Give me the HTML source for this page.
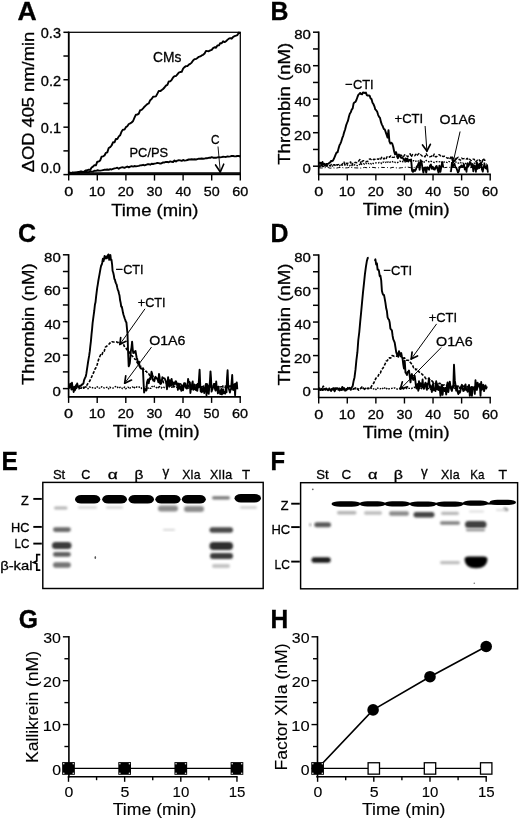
<!DOCTYPE html>
<html><head><meta charset="utf-8"><title>Figure</title>
<style>html,body{margin:0;padding:0;background:#fff}svg{display:block}text{font-family:"Liberation Sans","DejaVu Sans",sans-serif;fill:#000}text.c{stroke:#000;stroke-width:.3px}text.h{stroke:#000;stroke-width:.12px}</style>
</head><body>
<svg width="520" height="821" viewBox="0 0 520 821">
<defs>
<filter id="b1" x="-20%" y="-50%" width="140%" height="200%"><feGaussianBlur stdDeviation="0.7"/></filter>
<filter id="b2" x="-20%" y="-80%" width="140%" height="260%"><feGaussianBlur stdDeviation="0.9"/></filter>
<filter id="b3" x="-20%" y="-100%" width="140%" height="300%"><feGaussianBlur stdDeviation="1.2"/></filter>
</defs>
<rect width="520" height="821" fill="#fff"/>
<rect x="68.7" y="32.3" width="171.60000000000002" height="142.3" fill="none" stroke="#000" stroke-width="1.25"/>
<line x1="68.70" y1="31.70" x2="68.70" y2="175.20" stroke="#000" stroke-width="1.7"/>
<line x1="68.20" y1="174.20" x2="240.80" y2="174.20" stroke="#000" stroke-width="1.7"/>
<line x1="63.40" y1="174.60" x2="68.70" y2="174.60" stroke="#000" stroke-width="1.5"/>
<line x1="63.40" y1="150.88" x2="68.70" y2="150.88" stroke="#000" stroke-width="1.5"/>
<line x1="63.40" y1="127.17" x2="68.70" y2="127.17" stroke="#000" stroke-width="1.5"/>
<line x1="63.40" y1="103.45" x2="68.70" y2="103.45" stroke="#000" stroke-width="1.5"/>
<line x1="63.40" y1="79.73" x2="68.70" y2="79.73" stroke="#000" stroke-width="1.5"/>
<line x1="63.40" y1="56.02" x2="68.70" y2="56.02" stroke="#000" stroke-width="1.5"/>
<line x1="63.40" y1="32.30" x2="68.70" y2="32.30" stroke="#000" stroke-width="1.5"/>
<line x1="68.70" y1="174.60" x2="68.70" y2="180.60" stroke="#000" stroke-width="1.4"/>
<line x1="97.30" y1="174.60" x2="97.30" y2="180.60" stroke="#000" stroke-width="1.4"/>
<line x1="125.90" y1="174.60" x2="125.90" y2="180.60" stroke="#000" stroke-width="1.4"/>
<line x1="154.50" y1="174.60" x2="154.50" y2="180.60" stroke="#000" stroke-width="1.4"/>
<line x1="183.10" y1="174.60" x2="183.10" y2="180.60" stroke="#000" stroke-width="1.4"/>
<line x1="211.70" y1="174.60" x2="211.70" y2="180.60" stroke="#000" stroke-width="1.4"/>
<line x1="240.30" y1="174.60" x2="240.30" y2="180.60" stroke="#000" stroke-width="1.4"/>
<polyline points="68.7,171.9 70.1,173.4 71.6,172.9 73.0,172.5 74.4,173.3 75.9,172.6 77.3,172.5 78.7,173.7 80.1,171.5 81.6,171.4 83.0,172.0 84.4,171.3 85.9,170.4 87.3,170.3 88.7,169.7 90.2,169.9 91.6,167.5 93.0,166.6 94.4,165.2 95.9,165.3 97.3,161.6 98.7,161.5 100.2,160.4 101.6,156.7 103.0,156.3 104.5,155.5 105.9,152.8 107.3,152.4 108.7,148.0 110.2,147.2 111.6,145.5 113.0,142.3 114.5,142.4 115.9,138.9 117.3,139.1 118.8,136.4 120.2,135.2 121.6,131.5 123.0,129.6 124.5,129.6 125.9,127.1 127.3,126.2 128.8,124.0 130.2,123.4 131.6,122.5 133.1,121.0 134.5,117.7 135.9,114.7 137.3,114.6 138.8,113.6 140.2,110.2 141.6,109.9 143.1,108.4 144.5,106.7 145.9,105.4 147.4,104.0 148.8,103.3 150.2,100.2 151.6,99.1 153.1,96.8 154.5,96.6 155.9,96.4 157.4,93.6 158.8,90.9 160.2,91.1 161.7,90.1 163.1,89.0 164.5,87.5 165.9,85.6 167.4,84.8 168.8,81.4 170.2,81.4 171.7,79.8 173.1,77.5 174.5,76.1 176.0,76.0 177.4,74.3 178.8,72.6 180.2,72.0 181.7,71.8 183.1,68.6 184.5,67.1 186.0,66.1 187.4,66.1 188.8,64.6 190.2,63.9 191.7,62.6 193.1,60.4 194.5,59.2 196.0,58.9 197.4,57.9 198.8,56.8 200.3,56.4 201.7,55.4 203.1,54.8 204.6,53.5 206.0,50.9 207.4,51.1 208.8,51.2 210.3,50.4 211.7,49.9 213.1,48.1 214.6,47.2 216.0,47.8 217.4,45.5 218.9,45.4 220.3,43.1 221.7,43.2 223.1,41.3 224.6,42.1 226.0,41.2 227.4,39.9 228.9,38.6 230.3,38.1 231.7,38.7 233.2,36.8 234.6,36.2 236.0,35.7 237.4,35.1 238.9,32.5 240.3,33.3" fill="none" stroke="#000" stroke-width="1.9" stroke-linejoin="round"/>
<polyline points="68.7,173.5 70.1,172.8 71.6,172.9 73.0,172.8 74.4,172.4 75.9,172.4 77.3,172.3 78.7,172.0 80.1,172.1 81.6,172.3 83.0,172.1 84.4,172.0 85.9,171.7 87.3,172.0 88.7,172.1 90.2,171.3 91.6,171.6 93.0,171.6 94.4,170.7 95.9,170.9 97.3,170.3 98.7,170.5 100.2,170.6 101.6,170.4 103.0,170.1 104.5,169.8 105.9,169.8 107.3,169.5 108.7,169.8 110.2,169.1 111.6,169.5 113.0,168.9 114.5,168.4 115.9,168.1 117.3,167.7 118.8,168.7 120.2,167.8 121.6,167.4 123.0,167.3 124.5,167.8 125.9,167.2 127.3,166.5 128.8,167.4 130.2,166.6 131.6,166.2 133.1,166.6 134.5,166.0 135.9,166.4 137.3,166.1 138.8,165.9 140.2,165.4 141.6,165.3 143.1,164.8 144.5,165.3 145.9,164.8 147.4,164.3 148.8,164.2 150.2,164.7 151.6,163.8 153.1,164.0 154.5,163.6 155.9,163.4 157.4,162.9 158.8,163.1 160.2,163.6 161.7,163.3 163.1,162.4 164.5,162.5 165.9,161.9 167.4,162.0 168.8,162.2 170.2,161.4 171.7,161.8 173.1,162.0 174.5,160.5 176.0,161.6 177.4,160.6 178.8,160.3 180.2,160.4 181.7,160.9 183.1,159.9 184.5,160.6 186.0,160.4 187.4,160.0 188.8,159.5 190.2,159.5 191.7,159.2 193.1,159.5 194.5,159.3 196.0,159.5 197.4,159.1 198.8,158.7 200.3,158.8 201.7,158.5 203.1,158.7 204.6,158.6 206.0,158.2 207.4,158.2 208.8,157.8 210.3,157.8 211.7,157.2 213.1,157.7 214.6,157.6 216.0,157.8 217.4,157.4 218.9,157.1 220.3,157.4 221.7,157.1 223.1,156.8 224.6,156.9 226.0,157.0 227.4,156.4 228.9,156.6 230.3,156.4 231.7,156.0 233.2,156.0 234.6,156.4 236.0,156.3 237.4,156.0 238.9,156.0 240.3,156.5" fill="none" stroke="#000" stroke-width="1.9" stroke-linejoin="round"/>
<polyline points="68.7,172.9 240.3,172.9" fill="none" stroke="#000" stroke-width="1.5" stroke-linejoin="round"/>
<text class="c" x="40.82" y="173.00" font-size="14.0" textLength="20.09" lengthAdjust="spacingAndGlyphs">0.0</text>
<text class="c" x="40.82" y="133.32" font-size="14.0" textLength="20.24" lengthAdjust="spacingAndGlyphs">0.1</text>
<text class="c" x="40.82" y="85.88" font-size="14.0" textLength="20.32" lengthAdjust="spacingAndGlyphs">0.2</text>
<text class="c" x="40.82" y="38.45" font-size="14.0" textLength="20.16" lengthAdjust="spacingAndGlyphs">0.3</text>
<text class="c" x="64.15" y="196.20" font-size="13.6" textLength="9.04" lengthAdjust="spacingAndGlyphs">0</text>
<text class="c" x="88.79" y="196.20" font-size="13.6" textLength="16.46" lengthAdjust="spacingAndGlyphs">10</text>
<text class="c" x="117.78" y="196.20" font-size="13.6" textLength="16.06" lengthAdjust="spacingAndGlyphs">20</text>
<text class="c" x="146.53" y="196.20" font-size="13.6" textLength="15.91" lengthAdjust="spacingAndGlyphs">30</text>
<text class="c" x="175.42" y="196.20" font-size="13.6" textLength="15.60" lengthAdjust="spacingAndGlyphs">40</text>
<text class="c" x="203.73" y="196.20" font-size="13.6" textLength="15.91" lengthAdjust="spacingAndGlyphs">50</text>
<text class="c" x="232.18" y="196.20" font-size="13.6" textLength="16.06" lengthAdjust="spacingAndGlyphs">60</text>
<text class="c" x="111.23" y="215.50" font-size="17.0" textLength="87.27" lengthAdjust="spacingAndGlyphs">Time (min)</text>
<text class="c" x="34.20" y="172.35" font-size="17.0" textLength="140.55" lengthAdjust="spacingAndGlyphs" transform="rotate(-90 34.20 172.35)">ΔOD 405 nm/min</text>
<text class="c" x="17.54" y="20.40" font-size="25" font-weight="bold" textLength="19.19" lengthAdjust="spacingAndGlyphs">A</text>
<text class="c" x="153.11" y="61.80" font-size="14.2" textLength="28.38" lengthAdjust="spacingAndGlyphs">CMs</text>
<text class="c" x="129.57" y="157.20" font-size="13.6" textLength="38.52" lengthAdjust="spacingAndGlyphs">PC/PS</text>
<text class="c" x="210.91" y="144.40" font-size="13.6" textLength="8.53" lengthAdjust="spacingAndGlyphs">C</text>
<line x1="218.00" y1="146.50" x2="220.30" y2="172.00" stroke="#000" stroke-width="0.9"/>
<line x1="220.30" y1="172.00" x2="215.57" y2="164.94" stroke="#000" stroke-width="1.6" stroke-linecap="round"/>
<line x1="220.30" y1="172.00" x2="223.69" y2="164.20" stroke="#000" stroke-width="1.6" stroke-linecap="round"/>
<line x1="318.70" y1="31.50" x2="318.70" y2="175.10" stroke="#000" stroke-width="1.7"/>
<line x1="318.20" y1="174.40" x2="490.90" y2="174.40" stroke="#000" stroke-width="1.7"/>
<line x1="313.00" y1="166.20" x2="318.70" y2="166.20" stroke="#000" stroke-width="1.5"/>
<line x1="313.00" y1="149.45" x2="318.70" y2="149.45" stroke="#000" stroke-width="1.5"/>
<line x1="313.00" y1="132.70" x2="318.70" y2="132.70" stroke="#000" stroke-width="1.5"/>
<line x1="313.00" y1="115.95" x2="318.70" y2="115.95" stroke="#000" stroke-width="1.5"/>
<line x1="313.00" y1="99.20" x2="318.70" y2="99.20" stroke="#000" stroke-width="1.5"/>
<line x1="313.00" y1="82.45" x2="318.70" y2="82.45" stroke="#000" stroke-width="1.5"/>
<line x1="313.00" y1="65.70" x2="318.70" y2="65.70" stroke="#000" stroke-width="1.5"/>
<line x1="313.00" y1="48.95" x2="318.70" y2="48.95" stroke="#000" stroke-width="1.5"/>
<line x1="313.00" y1="32.20" x2="318.70" y2="32.20" stroke="#000" stroke-width="1.5"/>
<line x1="318.70" y1="174.40" x2="318.70" y2="180.40" stroke="#000" stroke-width="1.4"/>
<line x1="347.28" y1="174.40" x2="347.28" y2="180.40" stroke="#000" stroke-width="1.4"/>
<line x1="375.87" y1="174.40" x2="375.87" y2="180.40" stroke="#000" stroke-width="1.4"/>
<line x1="404.45" y1="174.40" x2="404.45" y2="180.40" stroke="#000" stroke-width="1.4"/>
<line x1="433.03" y1="174.40" x2="433.03" y2="180.40" stroke="#000" stroke-width="1.4"/>
<line x1="461.62" y1="174.40" x2="461.62" y2="180.40" stroke="#000" stroke-width="1.4"/>
<line x1="490.20" y1="174.40" x2="490.20" y2="180.40" stroke="#000" stroke-width="1.4"/>
<text class="c" x="302.50" y="173.20" font-size="13.6" textLength="8.34" lengthAdjust="spacingAndGlyphs">0</text>
<text class="c" x="294.04" y="139.70" font-size="13.6" textLength="16.82" lengthAdjust="spacingAndGlyphs">20</text>
<text class="c" x="294.51" y="106.20" font-size="13.6" textLength="16.34" lengthAdjust="spacingAndGlyphs">40</text>
<text class="c" x="294.04" y="72.70" font-size="13.6" textLength="16.82" lengthAdjust="spacingAndGlyphs">60</text>
<text class="c" x="294.20" y="39.20" font-size="13.6" textLength="16.66" lengthAdjust="spacingAndGlyphs">80</text>
<text class="c" x="314.15" y="195.80" font-size="13.6" textLength="9.04" lengthAdjust="spacingAndGlyphs">0</text>
<text class="c" x="338.77" y="195.80" font-size="13.6" textLength="16.46" lengthAdjust="spacingAndGlyphs">10</text>
<text class="c" x="367.74" y="195.80" font-size="13.6" textLength="16.06" lengthAdjust="spacingAndGlyphs">20</text>
<text class="c" x="396.48" y="195.80" font-size="13.6" textLength="15.91" lengthAdjust="spacingAndGlyphs">30</text>
<text class="c" x="425.35" y="195.80" font-size="13.6" textLength="15.60" lengthAdjust="spacingAndGlyphs">40</text>
<text class="c" x="453.64" y="195.80" font-size="13.6" textLength="15.91" lengthAdjust="spacingAndGlyphs">50</text>
<text class="c" x="482.08" y="195.80" font-size="13.6" textLength="16.06" lengthAdjust="spacingAndGlyphs">60</text>
<text class="c" x="362.73" y="214.80" font-size="17.0" textLength="86.97" lengthAdjust="spacingAndGlyphs">Time (min)</text>
<text class="c" x="289.70" y="164.77" font-size="17.0" textLength="122.03" lengthAdjust="spacingAndGlyphs" transform="rotate(-90 289.70 164.77)">Thrombin (nM)</text>
<polyline points="318.7,162.0 319.6,163.7 320.6,162.7 321.5,165.3 322.5,162.0 323.4,164.5 324.4,163.8 325.3,165.6 326.2,163.9 327.2,164.0 328.1,163.9 329.1,163.0 330.0,162.6 331.0,161.0 331.9,161.2 332.8,160.7 333.8,159.0 334.7,156.8 335.7,154.3 336.6,152.5 337.6,152.3 338.5,148.6 339.5,145.3 340.4,143.6 341.3,141.3 342.3,137.9 343.2,135.8 344.2,132.1 345.1,129.5 346.1,125.4 347.0,123.0 347.9,120.9 348.9,116.8 349.8,113.7 350.8,112.3 351.7,109.6 352.7,108.4 353.6,103.4 354.5,102.3 355.5,101.9 356.4,100.0 357.4,97.2 358.3,94.9 359.3,93.9 360.2,92.9 361.1,94.1 362.1,94.2 363.0,92.5 364.0,92.7 364.9,93.0 365.9,92.6 366.8,95.1 367.7,95.6 368.7,95.4 369.6,95.7 370.6,98.4 371.5,99.1 372.5,102.8 373.4,104.0 374.4,106.3 375.3,109.4 376.2,110.2 377.2,111.8 378.1,114.8 379.1,116.9 380.0,117.9 381.0,122.2 381.9,124.6 382.8,126.3 383.8,129.0 384.7,129.3 385.7,132.1 386.6,134.8 387.6,137.6 388.5,130.2 389.4,141.3 390.4,143.6 391.3,142.7 392.3,143.7 393.2,146.8 394.2,151.8 395.1,154.4 396.0,152.1 397.0,154.8 397.9,158.2 398.9,154.5 399.8,155.6 400.8,157.6 401.7,158.0 402.6,157.6 403.6,159.4 404.5,160.7 405.5,158.4 406.4,161.2 407.4,158.6 408.3,161.6 409.3,159.9 410.2,160.3 411.1,159.5 412.1,170.9 413.0,171.9 414.0,169.7 414.9,171.0 415.9,169.5 416.8,166.6 417.7,165.5 418.7,163.0 419.6,169.8 420.6,160.2 421.5,162.0 422.5,168.2 423.4,172.6 424.3,167.8 425.3,167.4 426.2,172.6 427.2,167.3 428.1,168.1 429.1,169.7 430.0,165.7 430.9,164.6 431.9,168.8 432.8,166.8 433.8,169.3 434.7,169.6 435.7,167.1 436.6,165.9 437.5,168.9 438.5,172.6 439.4,165.6 440.4,171.8 441.3,166.9 442.3,162.2 443.2,167.3" fill="none" stroke="#000" stroke-width="1.9" stroke-linejoin="round"/>
<polyline points="450.2,170.5 451.0,171.4 451.9,163.0 452.8,166.8 453.6,165.0 454.5,163.8 455.3,166.9 456.2,167.7 457.0,169.7 457.9,172.6 458.8,171.5 459.6,166.9 460.5,167.3 461.3,165.4 462.2,167.1 463.0,166.2 463.9,164.2 464.8,169.5 465.6,167.6 466.5,171.8 467.3,163.6 468.2,166.6 469.0,165.1 469.9,161.8 470.8,163.3 471.6,166.9 472.5,164.2 473.3,171.3 474.2,165.3 475.1,166.3 475.9,171.9 476.8,162.4 477.6,168.9 478.5,164.5 479.3,168.0 480.2,163.5 481.1,162.5 481.9,169.3 482.8,171.6 483.6,167.1 484.5,164.0 485.3,167.9 486.2,168.7 487.1,165.1 487.9,172.6" fill="none" stroke="#000" stroke-width="1.8" stroke-linejoin="round"/>
<polyline points="318.7,166.0 319.8,166.8 321.0,165.1 322.1,166.1 323.3,166.5 324.4,165.7 325.6,166.8 326.7,165.4 327.8,166.0 329.0,165.7 330.1,166.1 331.3,164.4 332.4,165.5 333.6,164.8 334.7,164.9 335.8,166.2 337.0,164.6 338.1,164.6 339.3,164.5 340.4,165.0 341.6,164.9 342.7,163.5 343.9,161.9 345.0,164.7 346.1,163.2 347.3,163.9 348.4,162.5 349.6,162.7 350.7,161.9 351.9,165.6 353.0,163.2 354.1,163.4 355.3,162.3 356.4,162.7 357.6,162.5 358.7,161.0 359.9,159.5 361.0,164.1 362.1,161.4 363.3,160.6 364.4,160.8 365.6,160.9 366.7,161.8 367.9,161.2 369.0,159.4 370.1,158.8 371.3,159.7 372.4,160.4 373.6,159.3 374.7,159.5 375.9,158.5 377.0,158.8 378.2,159.4 379.3,158.4 380.4,159.6 381.6,157.4 382.7,156.9 383.9,159.1 385.0,157.3 386.2,158.6 387.3,156.3 388.4,156.3 389.6,157.3 390.7,155.9 391.9,157.3 393.0,157.4 394.2,157.2 395.3,156.7 396.4,156.8 397.6,156.2 398.7,156.9 399.9,155.4 401.0,155.0 402.2,156.4 403.3,157.3 404.4,155.0 405.6,154.5 406.7,155.7 407.9,156.7 409.0,155.1 410.2,153.7 411.3,157.0 412.5,154.5 413.6,155.2 414.7,155.7 415.9,154.2 417.0,155.9 418.2,154.2 419.3,153.2 420.5,154.4 421.6,155.6 422.7,156.6 423.9,156.2 425.0,156.9 426.2,153.5 427.3,155.5 428.5,156.4 429.6,156.7 430.7,156.6 431.9,156.0 433.0,157.0 434.2,154.1 435.3,156.7 436.5,156.8 437.6,155.8 438.8,154.8 439.9,155.0 441.0,156.9 442.2,156.3 443.3,156.5 444.5,156.2 445.6,156.6 446.8,157.9 447.9,158.3 449.0,157.0 450.2,158.5 451.3,156.0 452.5,157.5 453.6,158.7 454.8,158.1 455.9,158.4 457.0,158.1 458.2,157.2 459.3,159.7 460.5,160.2 461.6,158.1 462.8,158.8 463.9,158.6 465.0,158.4 466.2,159.1 467.3,158.3 468.5,160.1 469.6,159.3 470.8,160.3 471.9,160.7 473.0,159.1 474.2,159.2 475.3,161.9 476.5,161.2 477.6,159.9 478.8,159.2 479.9,161.1 481.1,160.7 482.2,162.1 483.3,158.2 484.5,160.4 485.6,160.1 486.8,160.5" fill="none" stroke="#000" stroke-width="1.4" stroke-linejoin="round" stroke-dasharray="3.2 1.5"/>
<polyline points="318.7,165.7 319.8,165.8 321.0,166.3 322.1,165.7 323.3,166.0 324.4,165.3 325.6,166.4 326.7,166.3 327.8,165.5 329.0,165.1 330.1,165.8 331.3,166.2 332.4,165.9 333.6,166.1 334.7,164.6 335.8,165.2 337.0,164.9 338.1,165.5 339.3,165.9 340.4,164.9 341.6,164.6 342.7,165.2 343.9,165.5 345.0,164.8 346.1,165.6 347.3,164.9 348.4,165.7 349.6,165.8 350.7,164.8 351.9,164.8 353.0,163.8 354.1,165.0 355.3,164.7 356.4,165.3 357.6,165.7 358.7,165.5 359.9,164.1 361.0,165.0 362.1,163.5 363.3,163.3 364.4,164.2 365.6,163.0 366.7,163.7 367.9,163.1 369.0,163.8 370.1,163.0 371.3,164.0 372.4,163.0 373.6,163.6 374.7,163.3 375.9,162.8 377.0,162.9 378.2,163.0 379.3,162.4 380.4,162.3 381.6,163.5 382.7,162.3 383.9,162.1 385.0,162.9 386.2,162.1 387.3,163.0 388.4,161.3 389.6,162.2 390.7,162.0 391.9,161.3 393.0,162.0 394.2,161.5 395.3,162.5 396.4,162.2 397.6,162.6 398.7,161.9 399.9,161.1 401.0,161.6 402.2,161.1 403.3,162.2 404.4,162.1 405.6,161.8 406.7,161.2 407.9,161.3 409.0,161.5 410.2,161.1 411.3,161.5 412.5,161.4 413.6,160.6 414.7,161.6 415.9,161.2 417.0,160.3 418.2,161.1 419.3,160.8 420.5,161.6 421.6,160.1 422.7,162.6 423.9,162.0 425.0,162.0 426.2,160.4 427.3,161.2 428.5,161.6 429.6,162.2 430.7,161.3 431.9,161.5 433.0,162.0 434.2,162.5 435.3,162.3 436.5,161.6 437.6,161.5 438.8,161.7 439.9,161.9 441.0,162.9 442.2,161.8 443.3,162.5 444.5,161.9 445.6,161.7 446.8,162.4 447.9,162.6 449.0,161.5 450.2,162.0 451.3,162.6 452.5,164.1 453.6,162.4 454.8,162.1 455.9,161.9 457.0,163.0 458.2,163.1 459.3,163.0 460.5,162.3 461.6,163.6 462.8,163.0 463.9,163.6 465.0,163.0 466.2,164.1 467.3,163.0 468.5,163.6 469.6,163.5 470.8,163.2 471.9,162.9 473.0,164.6 474.2,163.1 475.3,163.4 476.5,164.0 477.6,163.1 478.8,163.9 479.9,163.3 481.1,164.5 482.2,164.7 483.3,163.6 484.5,163.1 485.6,164.0 486.8,164.0" fill="none" stroke="#000" stroke-width="1.3" stroke-linejoin="round" stroke-dasharray="1.6 1.3"/>
<polyline points="318.7,167.8 321.6,168.0 324.4,167.8 327.3,167.3 330.1,168.2 333.0,167.8 335.8,168.2 338.7,167.6 341.6,167.4 344.4,168.0 347.3,167.8 350.1,167.3 353.0,167.7 355.9,167.9 358.7,168.0 361.6,168.1 364.4,167.4 367.3,167.8 370.1,167.3 373.0,167.4 375.9,167.8 378.7,167.7 381.6,167.4 384.4,167.5 387.3,167.5 390.2,168.0 393.0,167.3 395.9,167.8 398.7,168.1 401.6,167.7 404.4,167.4 407.3,167.0 410.2,167.6 413.0,167.9 415.9,167.0 418.7,167.5 421.6,167.6 424.5,167.8 427.3,167.7 430.2,167.1 433.0,167.5 435.9,167.6 438.8,167.6 441.6,167.1 444.5,167.6 447.3,167.3 450.2,167.4 453.0,167.4 455.9,167.7 458.8,167.3 461.6,167.0 464.5,167.4 467.3,167.6 470.2,167.7 473.0,167.4 475.9,167.5 478.8,167.4 481.6,167.4 484.5,167.7 487.3,167.2" fill="none" stroke="#000" stroke-width="1.0" stroke-linejoin="round" stroke-dasharray="4 2 1 2"/>
<text class="c" x="345.35" y="89.00" font-size="13.6" textLength="28.37" lengthAdjust="spacingAndGlyphs">−CTI</text>
<text class="c" x="394.55" y="123.40" font-size="13.6" textLength="28.69" lengthAdjust="spacingAndGlyphs">+CTI</text>
<text class="c" x="439.56" y="124.20" font-size="13.6" textLength="36.13" lengthAdjust="spacingAndGlyphs">O1A6</text>
<line x1="425.10" y1="126.00" x2="426.90" y2="151.00" stroke="#000" stroke-width="1.0"/>
<line x1="426.90" y1="151.00" x2="422.53" y2="144.90" stroke="#000" stroke-width="1.7" stroke-linecap="round"/>
<line x1="426.90" y1="151.00" x2="430.35" y2="144.34" stroke="#000" stroke-width="1.7" stroke-linecap="round"/>
<line x1="460.10" y1="131.50" x2="453.10" y2="162.40" stroke="#000" stroke-width="1.0"/>
<line x1="453.10" y1="162.40" x2="451.73" y2="157.59" stroke="#000" stroke-width="1.7" stroke-linecap="round"/>
<line x1="453.10" y1="162.40" x2="456.41" y2="158.65" stroke="#000" stroke-width="1.7" stroke-linecap="round"/>
<text class="c" x="270.38" y="20.20" font-size="25" font-weight="bold" textLength="17.97" lengthAdjust="spacingAndGlyphs">B</text>
<line x1="68.60" y1="254.10" x2="68.60" y2="397.60" stroke="#000" stroke-width="1.7"/>
<line x1="68.10" y1="396.90" x2="240.90" y2="396.90" stroke="#000" stroke-width="1.7"/>
<line x1="62.90" y1="388.60" x2="68.60" y2="388.60" stroke="#000" stroke-width="1.5"/>
<line x1="62.90" y1="371.88" x2="68.60" y2="371.88" stroke="#000" stroke-width="1.5"/>
<line x1="62.90" y1="355.15" x2="68.60" y2="355.15" stroke="#000" stroke-width="1.5"/>
<line x1="62.90" y1="338.43" x2="68.60" y2="338.43" stroke="#000" stroke-width="1.5"/>
<line x1="62.90" y1="321.70" x2="68.60" y2="321.70" stroke="#000" stroke-width="1.5"/>
<line x1="62.90" y1="304.98" x2="68.60" y2="304.98" stroke="#000" stroke-width="1.5"/>
<line x1="62.90" y1="288.25" x2="68.60" y2="288.25" stroke="#000" stroke-width="1.5"/>
<line x1="62.90" y1="271.52" x2="68.60" y2="271.52" stroke="#000" stroke-width="1.5"/>
<line x1="62.90" y1="254.80" x2="68.60" y2="254.80" stroke="#000" stroke-width="1.5"/>
<line x1="68.60" y1="396.90" x2="68.60" y2="402.90" stroke="#000" stroke-width="1.4"/>
<line x1="97.20" y1="396.90" x2="97.20" y2="402.90" stroke="#000" stroke-width="1.4"/>
<line x1="125.80" y1="396.90" x2="125.80" y2="402.90" stroke="#000" stroke-width="1.4"/>
<line x1="154.40" y1="396.90" x2="154.40" y2="402.90" stroke="#000" stroke-width="1.4"/>
<line x1="183.00" y1="396.90" x2="183.00" y2="402.90" stroke="#000" stroke-width="1.4"/>
<line x1="211.60" y1="396.90" x2="211.60" y2="402.90" stroke="#000" stroke-width="1.4"/>
<line x1="240.20" y1="396.90" x2="240.20" y2="402.90" stroke="#000" stroke-width="1.4"/>
<text class="c" x="52.40" y="395.60" font-size="13.6" textLength="8.34" lengthAdjust="spacingAndGlyphs">0</text>
<text class="c" x="43.94" y="362.15" font-size="13.6" textLength="16.82" lengthAdjust="spacingAndGlyphs">20</text>
<text class="c" x="44.41" y="328.70" font-size="13.6" textLength="16.34" lengthAdjust="spacingAndGlyphs">40</text>
<text class="c" x="43.94" y="295.25" font-size="13.6" textLength="16.82" lengthAdjust="spacingAndGlyphs">60</text>
<text class="c" x="44.10" y="261.80" font-size="13.6" textLength="16.66" lengthAdjust="spacingAndGlyphs">80</text>
<text class="c" x="64.05" y="418.30" font-size="13.6" textLength="9.04" lengthAdjust="spacingAndGlyphs">0</text>
<text class="c" x="88.69" y="418.30" font-size="13.6" textLength="16.46" lengthAdjust="spacingAndGlyphs">10</text>
<text class="c" x="117.68" y="418.30" font-size="13.6" textLength="16.06" lengthAdjust="spacingAndGlyphs">20</text>
<text class="c" x="146.43" y="418.30" font-size="13.6" textLength="15.91" lengthAdjust="spacingAndGlyphs">30</text>
<text class="c" x="175.32" y="418.30" font-size="13.6" textLength="15.60" lengthAdjust="spacingAndGlyphs">40</text>
<text class="c" x="203.63" y="418.30" font-size="13.6" textLength="15.91" lengthAdjust="spacingAndGlyphs">50</text>
<text class="c" x="232.08" y="418.30" font-size="13.6" textLength="16.06" lengthAdjust="spacingAndGlyphs">60</text>
<text class="c" x="112.73" y="437.30" font-size="17.0" textLength="86.97" lengthAdjust="spacingAndGlyphs">Time (min)</text>
<text class="c" x="34.10" y="384.97" font-size="17.0" textLength="121.72" lengthAdjust="spacingAndGlyphs" transform="rotate(-90 34.10 384.97)">Thrombin (nM)</text>
<polyline points="68.6,385.8 69.2,386.9 69.7,385.9 70.3,383.6 70.9,386.5 71.5,389.5 72.0,382.8 72.6,388.2 73.2,389.2 73.7,392.0 74.3,386.8 74.9,390.3 75.5,388.6 76.0,385.3 76.6,386.7 77.2,383.5 77.8,385.9 78.3,387.2 78.9,387.1 79.5,386.9 80.0,385.7 80.6,385.8 81.2,385.7 81.8,384.4 82.3,384.5 82.9,384.0 83.5,383.1 84.0,380.3 84.6,378.9 85.2,377.5 85.8,376.3 86.3,373.9 86.9,369.9 87.5,365.9 88.0,362.5 88.6,358.8 89.2,355.4 89.8,351.2 90.3,346.4 90.9,341.3 91.5,334.6 92.1,328.9 92.6,323.2 93.2,318.6 93.8,314.2 94.3,310.5 94.9,304.8 95.5,302.3 96.1,296.7 96.6,292.6 97.2,287.8 97.8,284.3 98.3,281.0 98.9,277.6 99.5,274.3 100.1,270.9 100.6,268.1 101.2,265.4 101.8,264.6 102.3,262.2 102.9,258.7 103.5,261.2 104.1,258.9 104.6,255.9 105.2,257.1 105.8,258.4 106.4,256.4 106.9,258.3 107.5,257.0 108.1,254.7 108.6,254.4 109.2,259.9 109.8,256.4 110.4,255.1 110.9,259.8 111.5,259.8 112.1,264.5 112.6,271.0 113.2,272.5 113.8,275.2 114.4,279.1 114.9,279.5 115.5,282.2 116.1,283.6 116.6,284.5 117.2,287.4 117.8,289.9 118.4,291.0 118.9,293.3 119.5,295.4 120.1,300.3 120.7,303.0 121.2,306.5 121.8,306.7 122.4,309.5 122.9,312.3 123.5,314.7 124.1,316.5 124.7,318.5 125.2,319.7 125.8,321.6 126.4,322.3 126.9,327.8 127.5,333.6 128.1,352.4 128.7,366.3 129.2,365.1 129.8,363.2 130.4,357.1 130.9,350.6 131.5,347.8 132.1,341.7 132.7,349.0 133.2,353.0 133.8,352.9 134.4,352.2 135.0,351.4 135.5,350.9 136.1,354.6 136.7,357.8 137.2,358.9 137.8,362.6 138.4,364.1 139.0,361.6 139.5,365.9 140.1,367.4 140.7,368.3 141.2,368.5 141.8,368.4 142.4,369.1 143.0,370.1 143.5,381.4 144.1,392.5 144.7,390.5 145.2,389.1 145.8,389.4 146.4,390.4 147.0,382.2 147.5,380.7 148.1,379.4 148.7,383.4 149.3,380.0 149.8,378.3 150.4,379.3 151.0,375.8 151.5,371.8 152.1,373.6 152.7,379.2 153.3,380.6 153.8,380.2 154.4,381.2 155.0,377.9 155.5,376.8 156.1,377.9 156.7,378.2 157.3,378.6 157.8,379.9 158.4,382.3 159.0,373.9 159.5,376.6 160.1,383.7 160.7,384.0 161.3,383.1 161.8,381.2 162.4,377.2 163.0,378.3 163.6,378.3 164.1,378.4 164.7,378.5 165.3,380.0 165.8,381.1 166.4,383.3 167.0,389.2 167.6,383.7 168.1,377.1 168.7,385.5 169.3,385.9 169.8,380.3 170.4,383.8 171.0,385.9 171.6,378.9 172.1,382.4 172.7,382.0 173.3,386.8 173.8,383.2 174.4,383.7 175.0,382.4 175.6,381.3 176.1,381.5 176.7,384.9 177.3,383.3 177.9,389.8 178.4,383.7 179.0,383.6 179.6,387.5 180.1,389.0 180.7,386.6 181.3,390.8 181.9,385.5 182.4,385.8 183.0,390.3 183.6,386.8 184.1,383.2 184.7,383.3 185.3,383.5 185.9,387.6 186.4,388.3 187.0,388.5 187.6,385.1 188.1,378.9 188.7,382.3 189.3,381.7 189.9,382.6 190.4,393.0 191.0,388.1 191.6,388.9 192.2,383.0 192.7,381.5 193.3,389.8 193.9,387.4 194.4,385.6 195.0,389.3 195.6,389.8 196.2,390.0 196.7,384.6 197.3,390.9 197.9,383.7 198.4,387.5 199.0,378.9 199.6,369.8 200.2,384.3 200.7,391.5 201.3,387.1 201.9,392.2 202.4,391.2 203.0,389.0 203.6,388.0 204.2,393.0 204.7,389.9 205.3,386.6 205.9,383.9 206.5,395.3 207.0,384.0 207.6,385.5 208.2,392.4 208.7,393.8 209.3,387.1 209.9,381.7 210.5,371.4 211.0,378.1 211.6,391.6 212.2,389.6 212.7,388.5 213.3,387.0 213.9,383.9 214.5,384.0 215.0,389.0 215.6,390.6 216.2,381.5 216.7,387.5 217.3,388.1 217.9,393.4 218.5,386.8 219.0,392.2 219.6,391.0 220.2,394.0 220.8,391.1 221.3,389.0 221.9,394.4 222.5,392.2 223.0,389.3 223.6,393.3 224.2,393.2 224.8,391.7 225.3,393.6 225.9,386.5 226.5,392.1 227.0,378.4 227.6,370.3 228.2,385.3 228.8,388.5 229.3,390.3 229.9,392.6 230.5,389.8 231.0,389.4 231.6,382.8 232.2,375.0 232.8,389.1 233.3,390.0 233.9,386.6 234.5,384.2 235.1,395.3 235.6,383.6 236.2,388.6 236.8,382.5 237.3,389.2" fill="none" stroke="#000" stroke-width="1.9" stroke-linejoin="round"/>
<polyline points="68.6,388.3 69.7,387.7 70.9,386.9 72.0,387.6 73.2,389.2 74.3,387.1 75.5,388.6 76.6,388.2 77.8,388.2 78.9,388.7 80.0,388.2 81.2,388.0 82.3,387.7 83.5,387.3 84.6,387.2 85.8,387.0 86.9,385.2 88.0,383.4 89.2,381.8 90.3,380.0 91.5,377.3 92.6,374.8 93.8,372.1 94.9,369.2 96.1,367.6 97.2,364.5 98.3,360.4 99.5,357.3 100.6,354.8 101.8,355.4 102.9,352.0 104.1,352.0 105.2,347.3 106.4,346.3 107.5,345.5 108.6,344.8 109.8,343.0 110.9,343.2 112.1,341.8 113.2,342.0 114.4,342.0 115.5,341.8 116.6,341.9 117.8,342.6 118.9,341.5 120.1,342.1 121.2,343.4 122.4,343.5 123.5,344.4 124.7,347.3 125.8,348.0 126.9,349.6 128.1,351.4 129.2,352.0 130.4,354.3 131.5,355.4 132.7,356.4 133.8,357.8 135.0,359.3 136.1,359.5 137.2,362.7 138.4,363.7 139.5,366.1 140.7,366.3 141.8,366.9 143.0,368.0 144.1,370.3 145.2,371.2 146.4,371.3 147.5,373.3 148.7,373.7 149.8,375.6 151.0,374.6 152.1,375.5 153.3,376.4 154.4,377.8 155.5,378.0 156.7,378.4 157.8,378.9 159.0,379.7 160.1,380.4 161.3,380.4 162.4,380.0 163.6,382.6 164.7,382.5 165.8,382.9 167.0,382.7 168.1,383.7 169.3,382.5 170.4,383.2 171.6,383.8 172.7,384.2 173.8,383.7 175.0,383.9 176.1,383.9 177.3,384.7 178.4,384.0 179.6,385.5 180.7,383.8 181.9,386.8 183.0,385.3 184.1,385.9 185.3,384.7 186.4,386.3 187.6,384.2 188.7,386.6 189.9,384.3 191.0,385.4 192.2,385.7 193.3,385.5 194.4,384.4 195.6,385.3 196.7,387.4 197.9,385.2 199.0,385.9 200.2,387.2 201.3,385.6 202.4,387.0 203.6,386.1 204.7,386.1 205.9,386.8 207.0,386.0 208.2,387.1 209.3,386.4 210.5,386.9 211.6,386.7 212.7,385.3 213.9,386.5 215.0,387.4 216.2,386.7 217.3,387.2 218.5,386.7 219.6,386.6 220.8,386.7 221.9,386.7 223.0,387.1 224.2,386.5 225.3,386.1 226.5,387.2 227.6,386.8 228.8,386.8 229.9,386.0 231.0,386.1 232.2,387.3 233.3,386.8 234.5,387.9 235.6,387.6 236.8,386.9" fill="none" stroke="#000" stroke-width="1.6" stroke-linejoin="round" stroke-dasharray="3 1.5"/>
<polyline points="68.6,387.7 69.7,387.4 70.9,388.3 72.0,389.0 73.2,387.8 74.3,388.2 75.5,387.8 76.6,387.9 77.8,387.5 78.9,387.6 80.0,387.4 81.2,388.3 82.3,387.3 83.5,388.3 84.6,387.9 85.8,386.7 86.9,387.7 88.0,388.7 89.2,386.9 90.3,387.2 91.5,387.1 92.6,387.8 93.8,387.6 94.9,388.0 96.1,388.3 97.2,386.8 98.3,388.1 99.5,388.1 100.6,388.1 101.8,386.6 102.9,387.2 104.1,388.0 105.2,387.8 106.4,387.4 107.5,387.2 108.6,388.8 109.8,387.1 110.9,387.9 112.1,388.2 113.2,388.0 114.4,387.2 115.5,386.5 116.6,387.6 117.8,387.3 118.9,388.2 120.1,387.3 121.2,387.1 122.4,388.6 123.5,388.0 124.7,387.1 125.8,388.8 126.9,387.8 128.1,387.2 129.2,388.7 130.4,387.8 131.5,387.5 132.7,386.9 133.8,388.4 135.0,386.8 136.1,387.3 137.2,386.7 138.4,386.7 139.5,387.2 140.7,387.1 141.8,388.6 143.0,388.3 144.1,388.1 145.2,387.6 146.4,386.8 147.5,388.6 148.7,387.6 149.8,388.3 151.0,388.4 152.1,386.4 153.3,387.3 154.4,386.2 155.5,386.5 156.7,387.9 157.8,388.5 159.0,385.9 160.1,387.6 161.3,388.0 162.4,386.8 163.6,387.2 164.7,387.7 165.8,387.5 167.0,387.1 168.1,387.2 169.3,386.7 170.4,387.4 171.6,387.4 172.7,386.8 173.8,387.0 175.0,386.4 176.1,387.3 177.3,387.2 178.4,387.9 179.6,386.1 180.7,388.0 181.9,387.0 183.0,387.7 184.1,386.8 185.3,386.6 186.4,388.1 187.6,387.2 188.7,388.2 189.9,386.1 191.0,387.3 192.2,388.1 193.3,387.5 194.4,386.1 195.6,386.0 196.7,386.1 197.9,387.5 199.0,387.0 200.2,385.8 201.3,387.4 202.4,387.1 203.6,387.5 204.7,387.7 205.9,386.1 207.0,386.4 208.2,386.6 209.3,386.5 210.5,386.1 211.6,385.8 212.7,386.8 213.9,387.0 215.0,387.5 216.2,386.1 217.3,387.1 218.5,387.8 219.6,386.9 220.8,386.7 221.9,386.2 223.0,386.0 224.2,387.2 225.3,387.2 226.5,386.9 227.6,387.5 228.8,386.7 229.9,386.4 231.0,386.6 232.2,387.7 233.3,387.4 234.5,385.8 235.6,387.3 236.8,386.1" fill="none" stroke="#000" stroke-width="1.4" stroke-linejoin="round" stroke-dasharray="1.6 1.2"/>
<text class="c" x="115.77" y="274.40" font-size="13.6" textLength="27.84" lengthAdjust="spacingAndGlyphs">−CTI</text>
<text class="c" x="137.77" y="306.90" font-size="13.6" textLength="27.84" lengthAdjust="spacingAndGlyphs">+CTI</text>
<text class="c" x="149.16" y="345.20" font-size="13.6" textLength="36.24" lengthAdjust="spacingAndGlyphs">O1A6</text>
<line x1="145.00" y1="308.80" x2="119.90" y2="344.30" stroke="#000" stroke-width="1.0"/>
<line x1="119.90" y1="344.30" x2="120.68" y2="337.55" stroke="#000" stroke-width="1.7" stroke-linecap="round"/>
<line x1="119.90" y1="344.30" x2="126.01" y2="341.31" stroke="#000" stroke-width="1.7" stroke-linecap="round"/>
<line x1="151.50" y1="347.10" x2="124.70" y2="383.20" stroke="#000" stroke-width="1.0"/>
<line x1="124.70" y1="383.20" x2="125.74" y2="375.77" stroke="#000" stroke-width="1.7" stroke-linecap="round"/>
<line x1="124.70" y1="383.20" x2="131.51" y2="380.06" stroke="#000" stroke-width="1.7" stroke-linecap="round"/>
<text class="c" x="17.90" y="241.80" font-size="25" font-weight="bold" textLength="18.08" lengthAdjust="spacingAndGlyphs">C</text>
<line x1="318.70" y1="254.30" x2="318.70" y2="398.20" stroke="#000" stroke-width="1.7"/>
<line x1="318.20" y1="397.50" x2="490.90" y2="397.50" stroke="#000" stroke-width="1.7"/>
<line x1="313.00" y1="389.10" x2="318.70" y2="389.10" stroke="#000" stroke-width="1.5"/>
<line x1="313.00" y1="372.34" x2="318.70" y2="372.34" stroke="#000" stroke-width="1.5"/>
<line x1="313.00" y1="355.58" x2="318.70" y2="355.58" stroke="#000" stroke-width="1.5"/>
<line x1="313.00" y1="338.81" x2="318.70" y2="338.81" stroke="#000" stroke-width="1.5"/>
<line x1="313.00" y1="322.05" x2="318.70" y2="322.05" stroke="#000" stroke-width="1.5"/>
<line x1="313.00" y1="305.29" x2="318.70" y2="305.29" stroke="#000" stroke-width="1.5"/>
<line x1="313.00" y1="288.52" x2="318.70" y2="288.52" stroke="#000" stroke-width="1.5"/>
<line x1="313.00" y1="271.76" x2="318.70" y2="271.76" stroke="#000" stroke-width="1.5"/>
<line x1="313.00" y1="255.00" x2="318.70" y2="255.00" stroke="#000" stroke-width="1.5"/>
<line x1="318.70" y1="397.50" x2="318.70" y2="403.50" stroke="#000" stroke-width="1.4"/>
<line x1="347.28" y1="397.50" x2="347.28" y2="403.50" stroke="#000" stroke-width="1.4"/>
<line x1="375.87" y1="397.50" x2="375.87" y2="403.50" stroke="#000" stroke-width="1.4"/>
<line x1="404.45" y1="397.50" x2="404.45" y2="403.50" stroke="#000" stroke-width="1.4"/>
<line x1="433.03" y1="397.50" x2="433.03" y2="403.50" stroke="#000" stroke-width="1.4"/>
<line x1="461.62" y1="397.50" x2="461.62" y2="403.50" stroke="#000" stroke-width="1.4"/>
<line x1="490.20" y1="397.50" x2="490.20" y2="403.50" stroke="#000" stroke-width="1.4"/>
<text class="c" x="302.50" y="396.10" font-size="13.6" textLength="8.34" lengthAdjust="spacingAndGlyphs">0</text>
<text class="c" x="294.04" y="362.58" font-size="13.6" textLength="16.82" lengthAdjust="spacingAndGlyphs">20</text>
<text class="c" x="294.51" y="329.05" font-size="13.6" textLength="16.34" lengthAdjust="spacingAndGlyphs">40</text>
<text class="c" x="294.04" y="295.52" font-size="13.6" textLength="16.82" lengthAdjust="spacingAndGlyphs">60</text>
<text class="c" x="294.20" y="262.00" font-size="13.6" textLength="16.66" lengthAdjust="spacingAndGlyphs">80</text>
<text class="c" x="314.15" y="418.90" font-size="13.6" textLength="9.04" lengthAdjust="spacingAndGlyphs">0</text>
<text class="c" x="338.77" y="418.90" font-size="13.6" textLength="16.46" lengthAdjust="spacingAndGlyphs">10</text>
<text class="c" x="367.74" y="418.90" font-size="13.6" textLength="16.06" lengthAdjust="spacingAndGlyphs">20</text>
<text class="c" x="396.48" y="418.90" font-size="13.6" textLength="15.91" lengthAdjust="spacingAndGlyphs">30</text>
<text class="c" x="425.35" y="418.90" font-size="13.6" textLength="15.60" lengthAdjust="spacingAndGlyphs">40</text>
<text class="c" x="453.64" y="418.90" font-size="13.6" textLength="15.91" lengthAdjust="spacingAndGlyphs">50</text>
<text class="c" x="482.08" y="418.90" font-size="13.6" textLength="16.06" lengthAdjust="spacingAndGlyphs">60</text>
<text class="c" x="362.73" y="437.90" font-size="17.0" textLength="86.97" lengthAdjust="spacingAndGlyphs">Time (min)</text>
<text class="c" x="289.70" y="385.47" font-size="17.0" textLength="121.92" lengthAdjust="spacingAndGlyphs" transform="rotate(-90 289.70 385.47)">Thrombin (nM)</text>
<polyline points="318.7,388.5 319.6,389.4 320.6,390.1 321.5,388.9 322.5,390.0 323.4,389.3 324.4,389.0 325.3,389.8 326.2,389.3 327.2,389.4 328.1,390.3 329.1,389.3 330.0,389.7 331.0,390.9 331.9,389.4 332.8,389.4 333.8,389.7 334.7,391.2 335.7,388.3 336.6,388.4 337.6,388.4 338.5,388.8 339.5,390.4 340.4,389.0 341.3,390.0 342.3,386.9 343.2,389.6 344.2,388.4 345.1,390.7 346.1,390.3 347.0,389.6 347.9,388.4 348.9,388.5 349.8,388.5 350.8,389.8 351.7,387.5 352.7,386.0 353.6,380.9 354.5,377.4 355.5,369.7 356.4,360.2 357.4,352.2 358.3,340.0 359.3,332.0 360.2,321.8 361.1,312.7 362.1,301.9 363.0,292.4 364.0,283.2 364.9,274.4 365.9,266.8 366.8,261.3 367.7,257.9 368.7,257.6" fill="none" stroke="#000" stroke-width="1.9" stroke-linejoin="round"/>
<polyline points="374.7,260.8 375.4,259.3 376.2,264.6 376.9,263.4 377.6,269.6 378.3,269.4 379.0,271.1 379.7,276.2 380.4,275.6 381.2,280.4 381.9,290.8 382.6,293.5 383.3,294.9 384.0,294.9 384.7,298.6 385.4,302.6 386.2,308.3 386.9,311.0 387.6,317.3 388.3,319.0 389.0,319.6 389.7,322.5 390.4,328.7 391.2,329.6 391.9,330.4 392.6,335.7 393.3,339.4 394.0,340.8 394.7,342.6 395.4,347.0 396.2,352.1 396.9,354.2 397.6,353.4 398.3,356.9 399.0,351.1 399.7,353.9 400.4,354.6 401.2,353.0 401.9,356.5 402.6,358.9 403.3,364.6 404.0,368.6 404.7,360.8 405.5,372.6 406.2,373.3 406.9,375.0 407.6,371.9 408.3,372.0 409.0,370.5 409.7,376.0 410.5,382.4 411.2,375.7 411.9,374.1 412.6,378.4 413.3,379.9 414.0,378.1 414.7,375.8 415.5,382.1 416.2,388.0 416.9,385.1 417.6,384.0 418.3,390.7 419.0,381.3 419.7,387.6 420.5,383.1 421.2,384.7 421.9,387.0 422.6,379.5 423.3,388.0 424.0,388.5 424.7,384.8 425.5,382.7 426.2,386.0 426.9,389.8 427.6,383.4 428.3,383.8 429.0,378.1 429.7,387.0 430.5,385.4 431.2,388.4 431.9,392.0 432.6,386.0 433.3,383.1 434.0,390.3 434.7,389.0 435.5,391.0 436.2,381.3 436.9,389.0 437.6,384.4 438.3,390.0 439.0,386.4 439.8,389.1 440.5,395.8 441.2,386.5 441.9,384.8 442.6,394.9 443.3,387.6 444.0,388.6 444.8,391.1 445.5,388.0 446.2,394.5 446.9,386.1 447.6,382.5 448.3,392.0 449.0,387.4 449.8,381.7 450.5,386.8 451.2,389.3 451.9,390.9 452.6,386.7 453.3,387.5 454.0,364.8 454.8,380.4 455.5,384.9 456.2,390.6 456.9,386.6 457.6,391.8 458.3,394.0 459.0,391.2 459.8,392.7 460.5,390.4 461.2,386.4 461.9,384.8 462.6,388.1 463.3,391.0 464.0,390.6 464.8,386.6 465.5,384.4 466.2,390.1 466.9,389.3 467.6,391.7 468.3,388.0 469.0,385.0 469.8,395.8 470.5,387.7 471.2,390.8 471.9,395.8 472.6,387.4 473.3,389.0 474.1,387.2 474.8,393.9 475.5,380.3 476.2,388.1 476.9,389.9 477.6,382.6 478.3,386.0 479.1,385.3 479.8,384.0 480.5,395.8 481.2,382.0 481.9,389.7 482.6,387.3 483.3,384.8 484.1,391.1 484.8,387.1 485.5,385.4 486.2,388.5 486.9,386.4" fill="none" stroke="#000" stroke-width="1.9" stroke-linejoin="round"/>
<polyline points="318.7,389.7 319.8,389.4 321.0,389.4 322.1,388.3 323.3,386.1 324.4,388.4 325.6,388.7 326.7,388.6 327.8,387.9 329.0,388.1 330.1,389.4 331.3,387.9 332.4,388.6 333.6,388.0 334.7,389.9 335.8,389.6 337.0,388.2 338.1,389.8 339.3,388.3 340.4,388.4 341.6,388.5 342.7,388.4 343.9,388.4 345.0,388.3 346.1,388.9 347.3,388.6 348.4,386.6 349.6,387.8 350.7,388.2 351.9,388.3 353.0,389.1 354.1,388.4 355.3,388.8 356.4,388.0 357.6,389.2 358.7,390.2 359.9,389.0 361.0,388.1 362.1,386.9 363.3,387.9 364.4,389.3 365.6,388.5 366.7,388.8 367.9,388.1 369.0,388.4 370.1,388.7 371.3,386.7 372.4,384.9 373.6,383.3 374.7,381.1 375.9,378.1 377.0,377.5 378.2,375.9 379.3,373.2 380.4,372.9 381.6,369.4 382.7,368.5 383.9,366.6 385.0,364.1 386.2,361.1 387.3,360.8 388.4,358.4 389.6,357.8 390.7,358.1 391.9,355.6 393.0,355.8 394.2,356.4 395.3,356.1 396.4,356.2 397.6,355.5 398.7,356.6 399.9,355.5 401.0,356.7 402.2,357.7 403.3,358.2 404.4,357.8 405.6,359.7 406.7,360.2 407.9,360.2 409.0,360.5 410.2,362.2 411.3,363.6 412.5,365.1 413.6,367.7 414.7,367.6 415.9,369.8 417.0,369.2 418.2,370.9 419.3,372.1 420.5,372.7 421.6,373.8 422.7,374.9 423.9,375.8 425.0,377.4 426.2,378.9 427.3,378.8 428.5,378.6 429.6,379.5 430.7,380.9 431.9,380.9 433.0,382.1 434.2,382.1 435.3,383.4 436.5,383.3 437.6,382.3 438.8,383.4 439.9,383.2 441.0,385.0 442.2,385.3 443.3,385.1 444.5,385.0 445.6,385.8 446.8,385.3 447.9,386.5 449.0,385.2 450.2,385.5 451.3,387.0 452.5,385.9 453.6,386.4 454.8,385.6 455.9,386.7 457.0,386.2 458.2,386.1 459.3,388.3 460.5,387.8 461.6,386.5 462.8,386.7 463.9,386.0 465.0,386.5 466.2,387.6 467.3,386.5 468.5,387.3 469.6,387.0 470.8,387.2 471.9,386.7 473.0,387.9 474.2,387.7 475.3,388.5 476.5,385.6 477.6,387.8 478.8,387.7 479.9,387.9 481.1,387.6 482.2,387.5 483.3,386.9 484.5,387.2 485.6,387.1 486.8,387.8" fill="none" stroke="#000" stroke-width="1.6" stroke-linejoin="round" stroke-dasharray="3 1.5"/>
<polyline points="318.7,388.8 319.8,388.0 321.0,388.8 322.1,388.6 323.3,389.9 324.4,388.4 325.6,388.6 326.7,388.0 327.8,390.3 329.0,388.7 330.1,388.8 331.3,388.6 332.4,389.1 333.6,388.6 334.7,388.3 335.8,388.6 337.0,388.8 338.1,388.8 339.3,388.9 340.4,388.6 341.6,389.1 342.7,389.8 343.9,387.8 345.0,389.7 346.1,388.7 347.3,389.4 348.4,388.8 349.6,389.2 350.7,388.6 351.9,389.1 353.0,389.3 354.1,388.4 355.3,387.8 356.4,388.4 357.6,388.5 358.7,389.2 359.9,388.6 361.0,388.3 362.1,388.9 363.3,388.0 364.4,388.5 365.6,388.3 366.7,388.8 367.9,388.8 369.0,388.4 370.1,388.3 371.3,388.3 372.4,389.1 373.6,388.9 374.7,388.5 375.9,389.5 377.0,387.8 378.2,388.3 379.3,388.4 380.4,388.8 381.6,387.9 382.7,388.6 383.9,387.3 385.0,388.2 386.2,389.3 387.3,388.0 388.4,388.7 389.6,388.7 390.7,388.5 391.9,388.4 393.0,388.2 394.2,387.9 395.3,388.1 396.4,388.8 397.6,389.1 398.7,388.8 399.9,388.1 401.0,387.8 402.2,387.2 403.3,389.1 404.4,388.2 405.6,388.4 406.7,388.5 407.9,388.2 409.0,388.4 410.2,388.4 411.3,388.6 412.5,388.0 413.6,387.6 414.7,387.3 415.9,388.5 417.0,388.8 418.2,388.4 419.3,388.7 420.5,387.6 421.6,388.7 422.7,388.1 423.9,389.0 425.0,388.4 426.2,388.0 427.3,387.3 428.5,388.6 429.6,387.9 430.7,389.4 431.9,388.8 433.0,388.6 434.2,388.4 435.3,387.9 436.5,387.7 437.6,389.0 438.8,387.8 439.9,388.7 441.0,387.0 442.2,387.9 443.3,388.0 444.5,388.2 445.6,388.1 446.8,388.0 447.9,388.4 449.0,387.6 450.2,387.9 451.3,387.6 452.5,388.0 453.6,387.6 454.8,388.4 455.9,385.9 457.0,388.4 458.2,388.2 459.3,387.4 460.5,387.2 461.6,388.4 462.8,388.9 463.9,388.8 465.0,388.5 466.2,388.4 467.3,388.0 468.5,387.3 469.6,387.3 470.8,388.3 471.9,387.6 473.0,387.4 474.2,387.1 475.3,388.0 476.5,388.3 477.6,387.4 478.8,387.0 479.9,388.1 481.1,386.7 482.2,386.8 483.3,388.0 484.5,388.7 485.6,388.2 486.8,388.0" fill="none" stroke="#000" stroke-width="1.4" stroke-linejoin="round" stroke-dasharray="1.6 1.2"/>
<text class="c" x="383.55" y="274.90" font-size="13.6" textLength="28.48" lengthAdjust="spacingAndGlyphs">−CTI</text>
<text class="c" x="428.65" y="321.60" font-size="13.6" textLength="28.37" lengthAdjust="spacingAndGlyphs">+CTI</text>
<text class="c" x="436.06" y="346.30" font-size="13.6" textLength="36.55" lengthAdjust="spacingAndGlyphs">O1A6</text>
<line x1="436.60" y1="323.90" x2="411.20" y2="359.00" stroke="#000" stroke-width="1.0"/>
<line x1="411.20" y1="359.00" x2="412.08" y2="352.06" stroke="#000" stroke-width="1.7" stroke-linecap="round"/>
<line x1="411.20" y1="359.00" x2="417.52" y2="355.99" stroke="#000" stroke-width="1.7" stroke-linecap="round"/>
<line x1="441.20" y1="347.50" x2="400.30" y2="389.00" stroke="#000" stroke-width="1.0"/>
<line x1="400.30" y1="389.00" x2="402.36" y2="381.79" stroke="#000" stroke-width="1.7" stroke-linecap="round"/>
<line x1="400.30" y1="389.00" x2="407.48" y2="386.84" stroke="#000" stroke-width="1.7" stroke-linecap="round"/>
<text class="c" x="270.38" y="241.70" font-size="25" font-weight="bold" textLength="17.97" lengthAdjust="spacingAndGlyphs">D</text>
<rect x="42.8" y="482.4" width="220.4" height="106.1" fill="#fff" stroke="#000" stroke-width="1.45"/>
<text class="c" x="1.40" y="470.10" font-size="25" font-weight="bold" textLength="16.41" lengthAdjust="spacingAndGlyphs">E</text>
<text class="c" x="52.91" y="478.60" font-size="13.3" textLength="12.31" lengthAdjust="spacingAndGlyphs">St</text>
<text class="c" x="81.37" y="478.60" font-size="13.3" textLength="9.10" lengthAdjust="spacingAndGlyphs">C</text>
<text class="c" x="107.81" y="478.60" font-size="13.3" textLength="9.98" lengthAdjust="spacingAndGlyphs">α</text>
<text class="c" x="134.42" y="478.60" font-size="13.3" textLength="8.91" lengthAdjust="spacingAndGlyphs">β</text>
<text class="c" x="182.19" y="478.60" font-size="13.3" textLength="18.32" lengthAdjust="spacingAndGlyphs">XIa</text>
<text class="c" x="210.09" y="478.60" font-size="13.3" textLength="22.10" lengthAdjust="spacingAndGlyphs">XIIa</text>
<text class="c" x="241.93" y="478.60" font-size="13.3" textLength="8.14" lengthAdjust="spacingAndGlyphs">T</text>
<text class="c" x="162.53" y="475.80" font-size="13.3" textLength="6.73" lengthAdjust="spacingAndGlyphs">γ</text>
<text class="c" x="21.12" y="505.00" font-size="13.3" textLength="7.77" lengthAdjust="spacingAndGlyphs">Z</text>
<line x1="33.30" y1="498.90" x2="41.80" y2="498.90" stroke="#000" stroke-width="1.9"/>
<text class="c" x="10.98" y="532.40" font-size="13.3" textLength="18.42" lengthAdjust="spacingAndGlyphs">HC</text>
<line x1="33.30" y1="526.90" x2="41.80" y2="526.90" stroke="#000" stroke-width="1.9"/>
<text class="c" x="14.47" y="548.40" font-size="13.3" textLength="14.88" lengthAdjust="spacingAndGlyphs">LC</text>
<line x1="33.30" y1="543.60" x2="41.80" y2="543.60" stroke="#000" stroke-width="1.9"/>
<text class="c" x="0.17" y="570.40" font-size="13.3" textLength="32.32" lengthAdjust="spacingAndGlyphs">β-kal</text>
<path d="M40.3 554.6 H36.8 V561 L33.6 562.4 L36.8 563.8 V570.2 H40.3" fill="none" stroke="#000" stroke-width="1.7"/>
<rect x="75.0" y="495.0" width="25.3" height="8.6" rx="6.1" ry="4.3" fill="#000" filter="url(#b1)" opacity="1"/>
<rect x="102.2" y="495.0" width="24.8" height="8.6" rx="6.0" ry="4.3" fill="#000" filter="url(#b1)" opacity="1"/>
<rect x="128.5" y="495.0" width="25.5" height="8.6" rx="6.1" ry="4.3" fill="#000" filter="url(#b1)" opacity="1"/>
<rect x="155.3" y="495.0" width="25.3" height="8.6" rx="6.1" ry="4.3" fill="#000" filter="url(#b1)" opacity="1"/>
<rect x="181.8" y="495.0" width="24.0" height="8.6" rx="5.8" ry="4.3" fill="#000" filter="url(#b1)" opacity="1"/>
<rect x="234.5" y="494.0" width="26.5" height="8.4" rx="6.4" ry="4.2" fill="#000" filter="url(#b1)" opacity="1"/>
<rect x="212.0" y="496.2" width="18.0" height="3.2" rx="1.6" ry="1.6" fill="#777" filter="url(#b2)" opacity="1"/>
<rect x="78.0" y="506.5" width="19.0" height="2.0" rx="1.0" ry="1.0" fill="#ccc" filter="url(#b2)" opacity="1"/>
<rect x="106.0" y="506.5" width="17.0" height="2.0" rx="1.0" ry="1.0" fill="#ccc" filter="url(#b2)" opacity="1"/>
<rect x="158.0" y="505.6" width="20.0" height="6.0" rx="3.0" ry="3.0" fill="#8c8c8c" filter="url(#b3)" opacity="1"/>
<rect x="184.0" y="505.9" width="20.0" height="6.0" rx="3.0" ry="3.0" fill="#8c8c8c" filter="url(#b3)" opacity="1"/>
<rect x="240.0" y="506.2" width="17.0" height="2.5" rx="1.2" ry="1.2" fill="#ccc" filter="url(#b2)" opacity="1"/>
<rect x="163.0" y="529.0" width="12.0" height="1.6" rx="0.8" ry="0.8" fill="#ccc" filter="url(#b2)" opacity="1"/>
<rect x="54.0" y="506.5" width="13.5" height="3.0" rx="1.5" ry="1.5" fill="#b4b4b4" filter="url(#b2)" opacity="1"/>
<rect x="53.0" y="527.3" width="17.8" height="4.6" rx="2.3" ry="2.3" fill="#6a6a6a" filter="url(#b2)" opacity="1"/>
<rect x="52.0" y="542.1" width="19.5" height="7.0" rx="3.5" ry="3.5" fill="#3a3a3a" filter="url(#b2)" opacity="1"/>
<rect x="53.0" y="552.0" width="17.8" height="4.8" rx="2.4" ry="2.4" fill="#606060" filter="url(#b2)" opacity="1"/>
<rect x="53.0" y="562.3" width="17.8" height="5.4" rx="2.7" ry="2.7" fill="#747474" filter="url(#b2)" opacity="1"/>
<rect x="209.5" y="527.2" width="23.5" height="5.6" rx="2.8" ry="2.8" fill="#4a4a4a" filter="url(#b2)" opacity="1"/>
<rect x="209.5" y="542.0" width="23.5" height="8.0" rx="4.0" ry="4.0" fill="#2e2e2e" filter="url(#b2)" opacity="1"/>
<rect x="210.0" y="553.0" width="23.0" height="6.0" rx="3.0" ry="3.0" fill="#3c3c3c" filter="url(#b2)" opacity="1"/>
<rect x="212.0" y="564.0" width="18.0" height="4.0" rx="2.0" ry="2.0" fill="#c4c4c4" filter="url(#b2)" opacity="1"/>
<ellipse cx="95.3" cy="557.5" rx="0.8" ry="1.6" fill="#555"/>
<rect x="300.6" y="482.7" width="217" height="106.1" fill="#fff" stroke="#000" stroke-width="1.45"/>
<text class="c" x="270.45" y="470.00" font-size="25" font-weight="bold" textLength="14.61" lengthAdjust="spacingAndGlyphs">F</text>
<text class="c" x="316.31" y="478.60" font-size="13.3" textLength="12.42" lengthAdjust="spacingAndGlyphs">St</text>
<text class="c" x="341.63" y="478.60" font-size="13.3" textLength="9.67" lengthAdjust="spacingAndGlyphs">C</text>
<text class="c" x="368.14" y="478.60" font-size="13.3" textLength="9.52" lengthAdjust="spacingAndGlyphs">α</text>
<text class="c" x="393.69" y="478.60" font-size="13.3" textLength="9.15" lengthAdjust="spacingAndGlyphs">β</text>
<text class="c" x="440.99" y="478.60" font-size="13.3" textLength="18.72" lengthAdjust="spacingAndGlyphs">XIa</text>
<text class="c" x="470.37" y="478.60" font-size="13.3" textLength="14.16" lengthAdjust="spacingAndGlyphs">Ka</text>
<text class="c" x="498.62" y="478.60" font-size="13.3" textLength="8.57" lengthAdjust="spacingAndGlyphs">T</text>
<text class="c" x="421.13" y="475.80" font-size="13.3" textLength="6.73" lengthAdjust="spacingAndGlyphs">γ</text>
<text class="c" x="280.82" y="509.60" font-size="13.3" textLength="7.77" lengthAdjust="spacingAndGlyphs">Z</text>
<line x1="291.20" y1="503.70" x2="299.80" y2="503.70" stroke="#000" stroke-width="1.9"/>
<text class="c" x="271.46" y="533.50" font-size="13.3" textLength="18.75" lengthAdjust="spacingAndGlyphs">HC</text>
<line x1="291.20" y1="527.10" x2="299.80" y2="527.10" stroke="#000" stroke-width="1.9"/>
<text class="c" x="274.54" y="568.80" font-size="13.3" textLength="15.32" lengthAdjust="spacingAndGlyphs">LC</text>
<line x1="291.20" y1="561.60" x2="299.80" y2="561.60" stroke="#000" stroke-width="1.9"/>
<rect x="331.5" y="501.3" width="29.0" height="5.4" rx="8.7" ry="2.7" fill="#000" filter="url(#b1)" opacity="1"/>
<rect x="359.5" y="501.2" width="26.0" height="5.4" rx="7.8" ry="2.7" fill="#000" filter="url(#b1)" opacity="1"/>
<rect x="384.5" y="501.2" width="25.5" height="5.4" rx="7.6" ry="2.7" fill="#000" filter="url(#b1)" opacity="1"/>
<rect x="409.5" y="501.4" width="27.0" height="5.4" rx="8.1" ry="2.7" fill="#000" filter="url(#b1)" opacity="1"/>
<rect x="436.0" y="501.4" width="27.5" height="5.4" rx="8.2" ry="2.7" fill="#000" filter="url(#b1)" opacity="1"/>
<rect x="463.0" y="500.4" width="25.0" height="5.4" rx="7.5" ry="2.7" fill="#000" filter="url(#b1)" opacity="1"/>
<rect x="489.5" y="499.7" width="26.5" height="5.4" rx="7.9" ry="2.7" fill="#000" filter="url(#b1)" opacity="1"/>
<line x1="340.00" y1="504.00" x2="510.00" y2="503.40" stroke="#000" stroke-width="2.0"/>
<rect x="337.0" y="511.1" width="19.5" height="3.4" rx="1.7" ry="1.7" fill="#b4b4b4" filter="url(#b3)" opacity="1"/>
<rect x="364.0" y="511.3" width="18.0" height="3.4" rx="1.7" ry="1.7" fill="#bcbcbc" filter="url(#b3)" opacity="1"/>
<rect x="389.0" y="511.2" width="20.0" height="4.6" rx="2.3" ry="2.3" fill="#8a8a8a" filter="url(#b3)" opacity="1"/>
<rect x="413.5" y="512.1" width="21.0" height="5.4" rx="2.7" ry="2.7" fill="#444" filter="url(#b3)" opacity="1"/>
<rect x="441.0" y="511.7" width="18.0" height="3.2" rx="1.6" ry="1.6" fill="#b8b8b8" filter="url(#b3)" opacity="1"/>
<rect x="440.0" y="521.3" width="20.0" height="3.4" rx="1.7" ry="1.7" fill="#808080" filter="url(#b2)" opacity="1"/>
<rect x="465.0" y="520.9" width="21.5" height="7.0" rx="3.5" ry="3.5" fill="#404040" filter="url(#b2)" opacity="1"/>
<rect x="466.0" y="528.8" width="19.0" height="2.4" rx="1.2" ry="1.2" fill="#909090" filter="url(#b3)" opacity="1"/>
<rect x="469.0" y="510.5" width="15.0" height="2.0" rx="1.0" ry="1.0" fill="#ddd" filter="url(#b2)" opacity="1"/>
<ellipse cx="505.8" cy="509.3" rx="2.6" ry="1.3" fill="#666" transform="rotate(25 505.8 509.3)" filter="url(#b2)"/>
<rect x="496.0" y="509.0" width="10.0" height="2.0" rx="1.0" ry="1.0" fill="#ddd" filter="url(#b2)" opacity="1"/>
<rect x="314.3" y="522.2" width="16.7" height="5.0" rx="2.5" ry="2.5" fill="#5a5a5a" filter="url(#b2)" opacity="1"/>
<rect x="309.3" y="523.2" width="2.0" height="3.0" rx="1.0" ry="1.5" fill="#888" filter="url(#b2)" opacity="1"/>
<rect x="311.5" y="557.3" width="19.2" height="5.4" rx="2.7" ry="2.7" fill="#1c1c1c" filter="url(#b2)" opacity="1"/>
<rect x="440.0" y="560.9" width="20.0" height="3.4" rx="1.7" ry="1.7" fill="#bdbdbd" filter="url(#b2)" opacity="1"/>
<path d="M464.5 559.5 Q464.5 556 470 556.5 L482 556.5 Q487.5 556 487.5 559.5 Q487 568.3 476 568.3 Q465 568.3 464.5 559.5Z" fill="#000" filter="url(#b2)"/>
<circle cx="312.8" cy="489.3" r="0.9" fill="#666"/><circle cx="474.3" cy="583.3" r="0.8" fill="#777"/>
<line x1="68.90" y1="636.10" x2="68.90" y2="777.50" stroke="#000" stroke-width="1.6"/>
<line x1="67.70" y1="776.80" x2="237.65" y2="776.80" stroke="#000" stroke-width="1.6"/>
<line x1="62.90" y1="768.45" x2="68.90" y2="768.45" stroke="#000" stroke-width="1.4"/>
<line x1="64.40" y1="746.51" x2="68.90" y2="746.51" stroke="#000" stroke-width="1.4"/>
<line x1="62.90" y1="724.57" x2="68.90" y2="724.57" stroke="#000" stroke-width="1.4"/>
<line x1="64.40" y1="702.62" x2="68.90" y2="702.62" stroke="#000" stroke-width="1.4"/>
<line x1="62.90" y1="680.68" x2="68.90" y2="680.68" stroke="#000" stroke-width="1.4"/>
<line x1="64.40" y1="658.74" x2="68.90" y2="658.74" stroke="#000" stroke-width="1.4"/>
<line x1="62.90" y1="636.80" x2="68.90" y2="636.80" stroke="#000" stroke-width="1.4"/>
<line x1="68.50" y1="776.80" x2="68.50" y2="781.80" stroke="#000" stroke-width="1.4"/>
<line x1="96.58" y1="776.80" x2="96.58" y2="780.20" stroke="#000" stroke-width="1.4"/>
<line x1="124.65" y1="776.80" x2="124.65" y2="781.80" stroke="#000" stroke-width="1.4"/>
<line x1="152.73" y1="776.80" x2="152.73" y2="780.20" stroke="#000" stroke-width="1.4"/>
<line x1="180.80" y1="776.80" x2="180.80" y2="781.80" stroke="#000" stroke-width="1.4"/>
<line x1="208.88" y1="776.80" x2="208.88" y2="780.20" stroke="#000" stroke-width="1.4"/>
<line x1="236.95" y1="776.80" x2="236.95" y2="781.80" stroke="#000" stroke-width="1.4"/>
<text class="h" x="52.17" y="774.80" font-size="14.8" textLength="8.81" lengthAdjust="spacingAndGlyphs">0</text>
<text class="h" x="42.66" y="730.92" font-size="14.8" textLength="18.35" lengthAdjust="spacingAndGlyphs">10</text>
<text class="h" x="43.10" y="687.03" font-size="14.8" textLength="17.91" lengthAdjust="spacingAndGlyphs">20</text>
<text class="h" x="43.26" y="643.15" font-size="14.8" textLength="17.73" lengthAdjust="spacingAndGlyphs">30</text>
<text class="h" x="64.47" y="797.30" font-size="14.8" textLength="8.81" lengthAdjust="spacingAndGlyphs">0</text>
<text class="h" x="120.61" y="797.30" font-size="14.8" textLength="8.90" lengthAdjust="spacingAndGlyphs">5</text>
<text class="h" x="172.58" y="797.30" font-size="14.8" textLength="16.69" lengthAdjust="spacingAndGlyphs">10</text>
<text class="h" x="228.72" y="797.30" font-size="14.8" textLength="16.77" lengthAdjust="spacingAndGlyphs">15</text>
<text class="h" x="112.75" y="814.80" font-size="17" textLength="83.61" lengthAdjust="spacingAndGlyphs">Time (min)</text>
<text class="h" x="38.50" y="762.90" font-size="17" textLength="111.95" lengthAdjust="spacingAndGlyphs" transform="rotate(-90 38.50 762.90)">Kallikrein (nM)</text>
<line x1="68.50" y1="768.45" x2="236.95" y2="768.45" stroke="#000" stroke-width="1.3"/>
<rect x="62.15" y="762.10" width="12.7" height="12.7" fill="#000"/>
<circle cx="63.75" cy="763.70" r="0.8" fill="#e8e8e8"/>
<circle cx="63.75" cy="773.20" r="0.8" fill="#e8e8e8"/>
<circle cx="73.25" cy="763.70" r="0.8" fill="#e8e8e8"/>
<circle cx="73.25" cy="773.20" r="0.8" fill="#e8e8e8"/>
<rect x="118.30" y="762.10" width="12.7" height="12.7" fill="#000"/>
<circle cx="119.90" cy="763.70" r="0.8" fill="#e8e8e8"/>
<circle cx="119.90" cy="773.20" r="0.8" fill="#e8e8e8"/>
<circle cx="129.40" cy="763.70" r="0.8" fill="#e8e8e8"/>
<circle cx="129.40" cy="773.20" r="0.8" fill="#e8e8e8"/>
<rect x="174.45" y="762.10" width="12.7" height="12.7" fill="#000"/>
<circle cx="176.05" cy="763.70" r="0.8" fill="#e8e8e8"/>
<circle cx="176.05" cy="773.20" r="0.8" fill="#e8e8e8"/>
<circle cx="185.55" cy="763.70" r="0.8" fill="#e8e8e8"/>
<circle cx="185.55" cy="773.20" r="0.8" fill="#e8e8e8"/>
<rect x="230.60" y="762.10" width="12.7" height="12.7" fill="#000"/>
<circle cx="232.20" cy="763.70" r="0.8" fill="#e8e8e8"/>
<circle cx="232.20" cy="773.20" r="0.8" fill="#e8e8e8"/>
<circle cx="241.70" cy="763.70" r="0.8" fill="#e8e8e8"/>
<circle cx="241.70" cy="773.20" r="0.8" fill="#e8e8e8"/>
<text class="c" x="18.81" y="627.50" font-size="25" font-weight="bold" textLength="19.24" lengthAdjust="spacingAndGlyphs">G</text>
<line x1="317.50" y1="636.10" x2="317.50" y2="777.50" stroke="#000" stroke-width="1.6"/>
<line x1="316.30" y1="776.80" x2="486.90" y2="776.80" stroke="#000" stroke-width="1.6"/>
<line x1="311.50" y1="768.45" x2="317.50" y2="768.45" stroke="#000" stroke-width="1.4"/>
<line x1="313.00" y1="746.51" x2="317.50" y2="746.51" stroke="#000" stroke-width="1.4"/>
<line x1="311.50" y1="724.57" x2="317.50" y2="724.57" stroke="#000" stroke-width="1.4"/>
<line x1="313.00" y1="702.62" x2="317.50" y2="702.62" stroke="#000" stroke-width="1.4"/>
<line x1="311.50" y1="680.68" x2="317.50" y2="680.68" stroke="#000" stroke-width="1.4"/>
<line x1="313.00" y1="658.74" x2="317.50" y2="658.74" stroke="#000" stroke-width="1.4"/>
<line x1="311.50" y1="636.80" x2="317.50" y2="636.80" stroke="#000" stroke-width="1.4"/>
<line x1="317.60" y1="776.80" x2="317.60" y2="781.80" stroke="#000" stroke-width="1.4"/>
<line x1="345.70" y1="776.80" x2="345.70" y2="780.20" stroke="#000" stroke-width="1.4"/>
<line x1="373.80" y1="776.80" x2="373.80" y2="781.80" stroke="#000" stroke-width="1.4"/>
<line x1="401.90" y1="776.80" x2="401.90" y2="780.20" stroke="#000" stroke-width="1.4"/>
<line x1="430.00" y1="776.80" x2="430.00" y2="781.80" stroke="#000" stroke-width="1.4"/>
<line x1="458.10" y1="776.80" x2="458.10" y2="780.20" stroke="#000" stroke-width="1.4"/>
<line x1="486.20" y1="776.80" x2="486.20" y2="781.80" stroke="#000" stroke-width="1.4"/>
<text class="h" x="300.77" y="774.80" font-size="14.8" textLength="8.81" lengthAdjust="spacingAndGlyphs">0</text>
<text class="h" x="291.26" y="730.92" font-size="14.8" textLength="18.35" lengthAdjust="spacingAndGlyphs">10</text>
<text class="h" x="291.70" y="687.03" font-size="14.8" textLength="17.91" lengthAdjust="spacingAndGlyphs">20</text>
<text class="h" x="291.86" y="643.15" font-size="14.8" textLength="17.73" lengthAdjust="spacingAndGlyphs">30</text>
<text class="h" x="313.57" y="797.30" font-size="14.8" textLength="8.81" lengthAdjust="spacingAndGlyphs">0</text>
<text class="h" x="369.76" y="797.30" font-size="14.8" textLength="8.90" lengthAdjust="spacingAndGlyphs">5</text>
<text class="h" x="421.77" y="797.30" font-size="14.8" textLength="16.69" lengthAdjust="spacingAndGlyphs">10</text>
<text class="h" x="477.97" y="797.30" font-size="14.8" textLength="16.77" lengthAdjust="spacingAndGlyphs">15</text>
<text class="h" x="361.90" y="814.80" font-size="17" textLength="83.61" lengthAdjust="spacingAndGlyphs">Time (min)</text>
<text class="h" x="287.30" y="770.41" font-size="16.6" textLength="126.93" lengthAdjust="spacingAndGlyphs" transform="rotate(-90 287.30 770.41)">Factor XIIa (nM)</text>
<line x1="317.60" y1="768.45" x2="486.20" y2="768.45" stroke="#000" stroke-width="1.3"/>
<polyline points="317.6,768.5 373.1,709.9 430.0,676.7 486.2,646.5" fill="none" stroke="#000" stroke-width="1.6"/>
<rect x="368.10" y="762.75" width="11.4" height="11.4" fill="#fff" stroke="#000" stroke-width="1.3"/>
<rect x="424.30" y="762.75" width="11.4" height="11.4" fill="#fff" stroke="#000" stroke-width="1.3"/>
<rect x="480.50" y="762.75" width="11.4" height="11.4" fill="#fff" stroke="#000" stroke-width="1.3"/>
<rect x="311.25" y="762.10" width="12.7" height="12.7" fill="#000"/>
<circle cx="312.85" cy="763.70" r="0.8" fill="#e8e8e8"/>
<circle cx="312.85" cy="773.20" r="0.8" fill="#e8e8e8"/>
<circle cx="322.35" cy="763.70" r="0.8" fill="#e8e8e8"/>
<circle cx="322.35" cy="773.20" r="0.8" fill="#e8e8e8"/>
<circle cx="373.1" cy="709.9" r="5.8" fill="#000"/>
<circle cx="430.0" cy="676.7" r="5.8" fill="#000"/>
<circle cx="486.2" cy="646.5" r="5.8" fill="#000"/>
<text class="c" x="270.40" y="627.70" font-size="25" font-weight="bold" textLength="17.75" lengthAdjust="spacingAndGlyphs">H</text>
</svg>
</body></html>
